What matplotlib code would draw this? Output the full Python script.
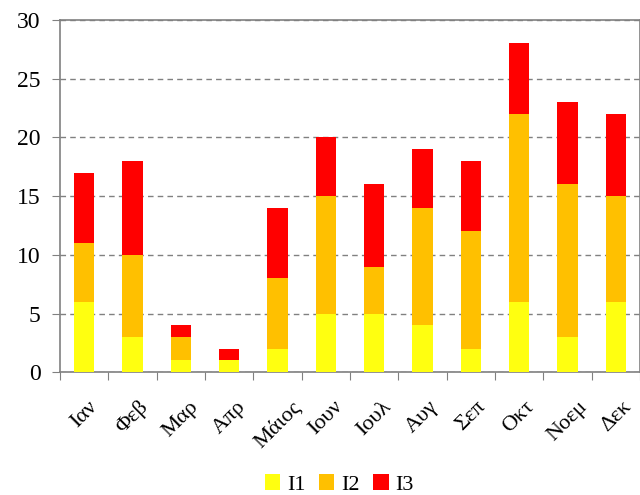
import matplotlib
matplotlib.use("Agg")
import matplotlib.pyplot as plt
import numpy as np

months = ["Ιαν", "Φεβ", "Μαρ", "Απρ", "Μάιος", "Ιουν", "Ιουλ", "Αυγ", "Σεπ", "Οκτ", "Νοεμ", "Δεκ"]
i1 = [6, 3, 1, 1, 2, 5, 5, 4, 2, 6, 3, 6]
i2 = [5, 7, 2, 0, 6, 10, 4, 10, 10, 16, 13, 9]
i3 = [6, 8, 1, 1, 6, 5, 7, 5, 6, 6, 7, 7]
series_names = ["I1", "I2", "I3"]
colors = ["#FFFF10", "#FFC000", "#FF0000"]

fig = plt.figure(figsize=(6.4, 4.95), dpi=100)
ax = fig.add_axes([0.094, 0.248, 0.906, 0.712])

x = np.arange(len(months))
w = 0.42
b1 = np.array(i1)
b2 = b1 + np.array(i2)
ax.bar(x, i1, w, color=colors[0], label=series_names[0], zorder=3)
ax.bar(x, i2, w, bottom=b1, color=colors[1], label=series_names[1], zorder=3)
ax.bar(x, i3, w, bottom=b2, color=colors[2], label=series_names[2], zorder=3)

ax.set_xlim(-0.5, len(months) - 0.5)
ax.set_ylim(0, 30)
ax.set_yticks([0, 5, 10, 15, 20, 25, 30])
ax.yaxis.grid(True, linestyle=(0, (4, 3)), color="#808080", linewidth=1.0, zorder=0)

ax.set_xticks(np.arange(-0.5, len(months), 1.0))
ax.set_xticklabels([])
ax.set_xticks(x, minor=True)
ax.set_xticklabels(months, minor=True, rotation=45, ha="center", va="top",
                   fontsize=16, family="Liberation Serif")
ax.tick_params(axis="x", which="minor", length=0, pad=18)
ax.tick_params(axis="x", which="major", length=6, color="#808080", direction="out")
ax.tick_params(axis="y", length=6, color="#808080", labelsize=17, pad=8)
for lab in ax.get_yticklabels():
    lab.set_family("Liberation Serif")

for s in ["left", "bottom", "top", "right"]:
    ax.spines[s].set_color("#808080")
    ax.spines[s].set_linewidth(1.2)

leg = fig.legend(loc="lower center", bbox_to_anchor=(0.53, -0.04), ncol=3, frameon=False,
                 prop={"family": "Liberation Serif", "size": 16},
                 handlelength=0.7, handleheight=0.7, handletextpad=0.3, columnspacing=0.6)

fig.savefig("out.png", dpi=100)
